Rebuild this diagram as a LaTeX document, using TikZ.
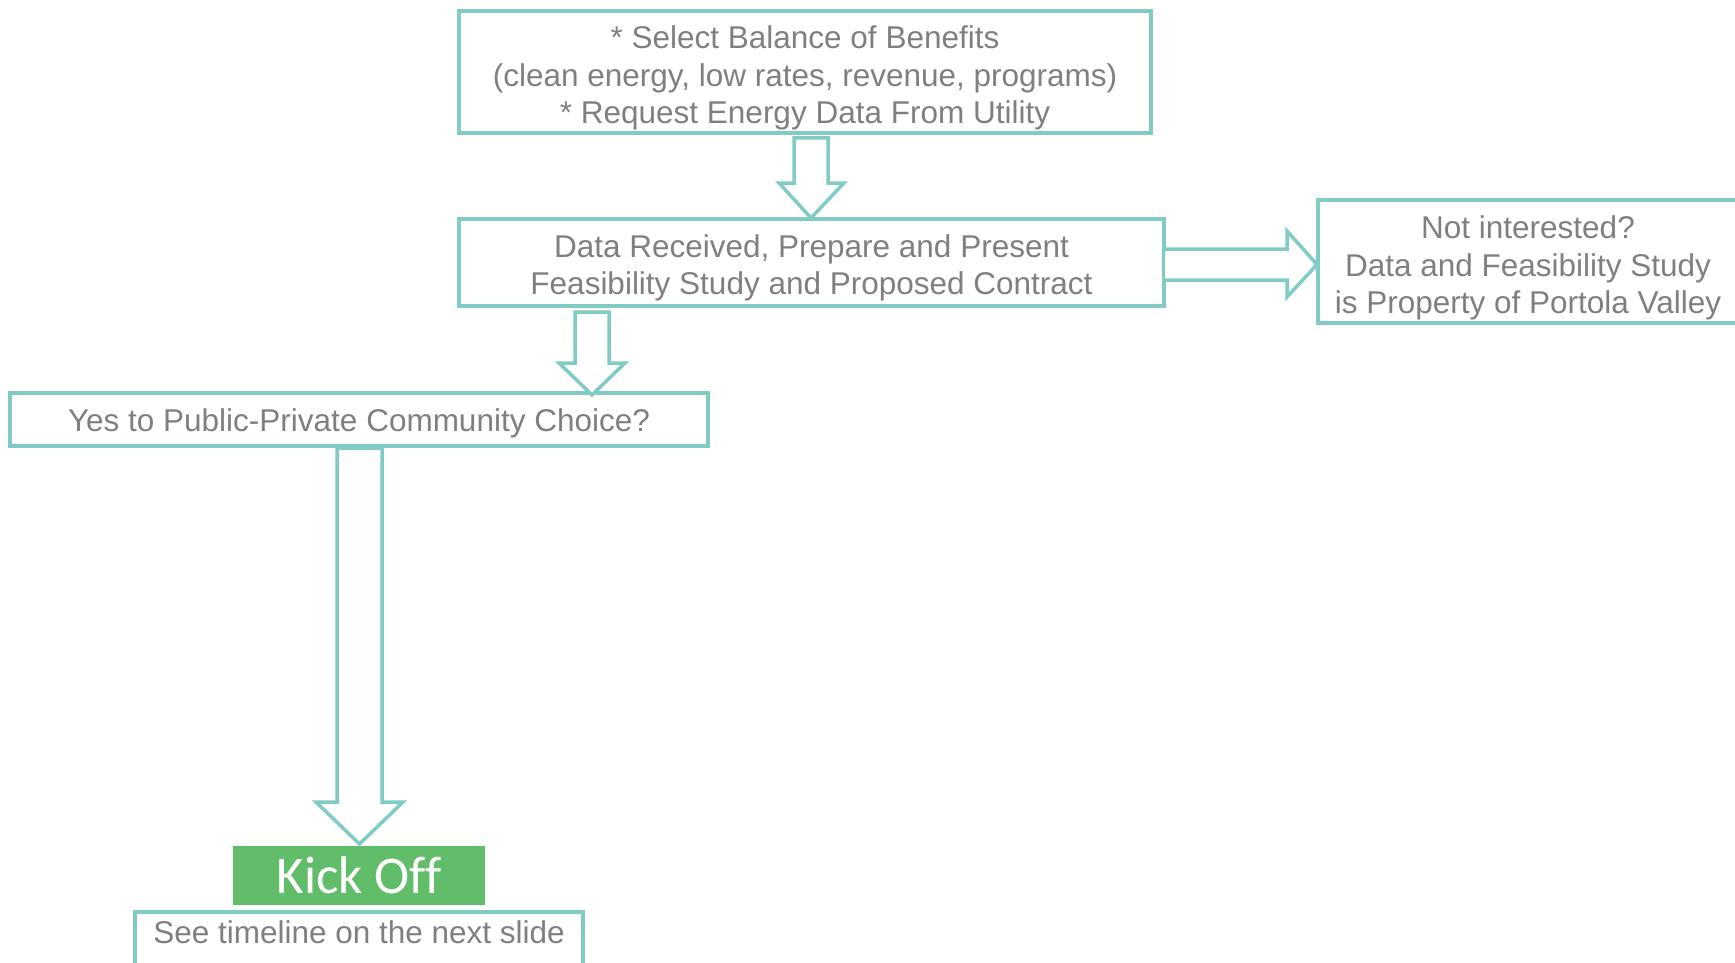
\documentclass[tikz,border=0pt]{standalone}
\usepackage{fontspec}
\setmainfont{Liberation Sans}
\newfontfamily\kickfont[Ligatures=NoCommon]{Carlito}
\definecolor{teal1}{RGB}{128,204,196}
\definecolor{greytext}{RGB}{127,127,127}
\definecolor{kickgreen}{RGB}{98,189,106}
\begin{document}
\begin{tikzpicture}[x=1pt,y=-1pt,
  box/.style={draw=teal1,line width=3.5pt,inner sep=0pt,anchor=center},
  txt/.style={text=greytext,align=center,font=\fontsize{31.5}{37.6}\selectfont,inner sep=0pt},
  barrow/.style={draw=teal1,line width=3.5pt,fill=white,line join=miter}]
\useasboundingbox (0,0) rectangle (1735,963);
\clip (0,0) rectangle (1735,963);
% boxes
\node[box,minimum width=692pt,minimum height=122pt] (b1) at (805,72) {};
\node[txt] (t1) at (805,78) {* Select Balance of Benefits\\(clean energy, low rates, revenue, programs)\\* Request Energy Data From Utility};
\node[box,minimum width=705pt,minimum height=87pt] (b2) at (811.5,262.5) {};
\node[txt] (t2) at (811.5,268) {Data Received, Prepare and Present\\Feasibility Study and Proposed Contract};
\node[box,minimum width=420pt,minimum height=123pt] (b3) at (1528,261.5) {};
\node[txt] (t3) at (1528,268) {Not interested?\\Data and Feasibility Study\\is Property of Portola Valley};
\node[box,minimum width=698pt,minimum height=53pt] (b4) at (359,419.5) {};
\node[txt] (t4) at (359,423.5) {Yes to Public-Private Community Choice?};
\node[fill=kickgreen,minimum width=252pt,minimum height=59pt,inner sep=0pt,text=white,font=\kickfont\fontsize{53}{58}\selectfont] (kick) at (359,875.5) {Kick Off};
\node[box,minimum width=448pt,minimum height=70pt] (b5) at (359,947) {};
\node[txt] (t5) at (359,932.5) {See timeline on the next slide};
% block arrows
\draw[barrow] (794,138) -- (828,138) -- (828,183) -- (844,183) -- (811,218) -- (779,183) -- (794,183) -- cycle;
\draw[barrow] (575,312) -- (609,312) -- (609,363) -- (625,363) -- (592,395) -- (559,363) -- (575,363) -- cycle;
\draw[barrow] (337,448) -- (382,448) -- (382,802) -- (403,802) -- (359.5,844) -- (316,802) -- (337,802) -- cycle;
\draw[barrow] (1165,249) -- (1287,249) -- (1287,231) -- (1317,264.5) -- (1287,297) -- (1287,280) -- (1165,280);
\end{tikzpicture}
\end{document}
